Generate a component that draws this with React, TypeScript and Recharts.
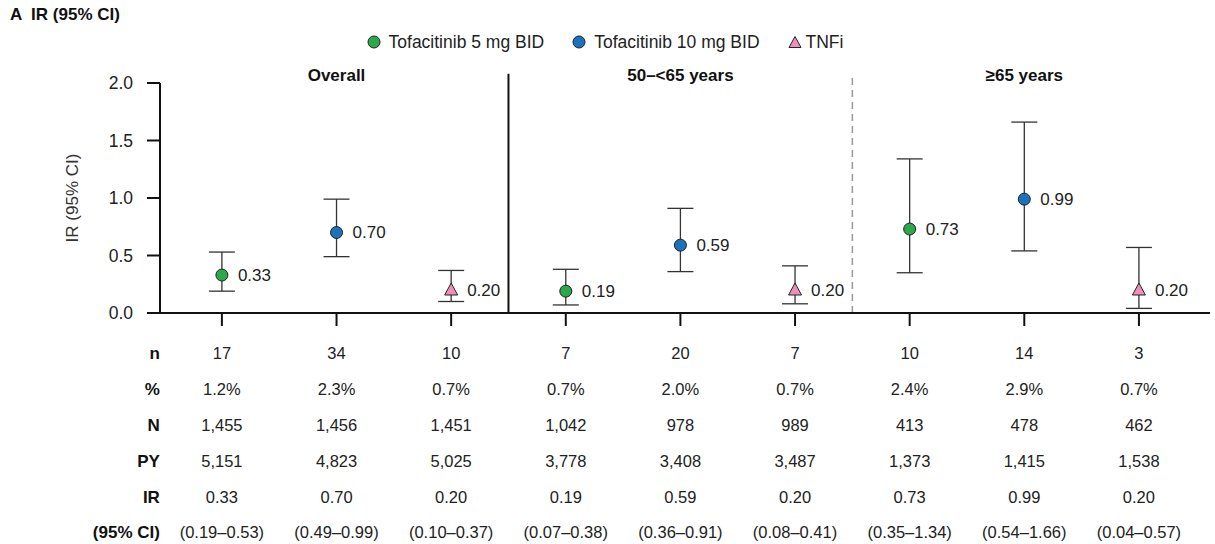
import { ScatterChart, Scatter, XAxis, YAxis, ErrorBar, ReferenceLine, ReferenceDot, Legend } from "recharts";

const FONT = '"Liberation Sans", Arial, Helvetica, sans-serif';

// columns: Overall (5, 10, TNFi), 50-<65 (5, 10, TNFi), >=65 (5, 10, TNFi)
const groups = ["Overall", "50–<65 years", "≥65 years"];
const seriesNames = ["Tofacitinib 5 mg BID", "Tofacitinib 10 mg BID", "TNFi"];
const seriesColors = ["#2ba84a", "#1a72bd", "#ec8fbb"];

const irValues = [0.33, 0.7, 0.2, 0.19, 0.59, 0.2, 0.73, 0.99, 0.2];
const ciLow = [0.19, 0.49, 0.1, 0.07, 0.36, 0.08, 0.35, 0.54, 0.04];
const ciHigh = [0.53, 0.99, 0.37, 0.38, 0.91, 0.41, 1.34, 1.66, 0.57];

const nValues = ["17", "34", "10", "7", "20", "7", "10", "14", "3"];
const pctValues = ["1.2%", "2.3%", "0.7%", "0.7%", "2.0%", "0.7%", "2.4%", "2.9%", "0.7%"];
const bigNValues = ["1,455", "1,456", "1,451", "1,042", "978", "989", "413", "478", "462"];
const pyValues = ["5,151", "4,823", "5,025", "3,778", "3,408", "3,487", "1,373", "1,415", "1,538"];

const rowLabels = ["n", "%", "N", "PY", "IR", "(95% CI)"];
const rowOffsets = [25, 61, 97, 133, 169, 204];
const columns = [0, 1, 2, 3, 4, 5, 6, 7, 8];
const yTicks = [0, 0.5, 1, 1.5, 2];

const seriesData = seriesNames.map((_, s) =>
  columns
    .filter((c) => c % 3 === s)
    .map((c) => ({
      x: c,
      y: irValues[c],
      err: [irValues[c] - ciLow[c], ciHigh[c] - irValues[c]],
    }))
);

const ciText = (i: number) => `(${ciLow[i].toFixed(2)}–${ciHigh[i].toFixed(2)})`;

const TableTick = (props: any) => {
  const { x, y, payload } = props;
  const i = payload.value as number;
  const cells = [nValues[i], pctValues[i], bigNValues[i], pyValues[i], irValues[i].toFixed(2), ciText(i)];
  return (
    <g fontFamily={FONT}>
      {cells.map((c, r) => (
        <text key={r} x={x} y={y + rowOffsets[r]} textAnchor="middle" dominantBaseline="central" fill="#222" fontSize={16.5}>
          {c}
        </text>
      ))}
      {i === 0 &&
        rowLabels.map((l, r) => (
          <text key={"l" + r} x={x - 62} y={y + rowOffsets[r]} textAnchor="end" dominantBaseline="central" fill="#111" fontWeight={700} fontSize={17}>
            {l}
          </text>
        ))}
    </g>
  );
};

const makeShape = (s: number) => (props: any) => {
  const { cx, cy, payload } = props;
  const color = seriesColors[s];
  return (
    <g>
      {s === 2 ? (
        <path d={`M${cx},${cy - 7} L${cx + 6.5},${cy + 5} L${cx - 6.5},${cy + 5} Z`} fill={color} stroke="#222" strokeWidth={1} />
      ) : (
        <circle cx={cx} cy={cy} r={6} fill={color} stroke="#222" strokeWidth={1} />
      )}
      <text x={cx + 16} y={cy} dominantBaseline="central" fontFamily={FONT} fontSize={17} fill="#222">
        {payload.y.toFixed(2)}
      </text>
    </g>
  );
};

const LegendIcon = ({ s }: { s: number }) => (
  <svg width={14} height={14} style={{ display: "block" }}>
    {s === 2 ? (
      <path d="M7,1.5 L13,12.5 L1,12.5 Z" fill={seriesColors[s]} stroke="#222" strokeWidth={1} />
    ) : (
      <circle cx={7} cy={7} r={6} fill={seriesColors[s]} stroke="#222" strokeWidth={1} />
    )}
  </svg>
);

const LegendContent = () => (
  <div style={{ display: "flex", justifyContent: "center", alignItems: "center", height: 24, fontFamily: FONT, fontSize: 17.5, color: "#222" }}>
    {seriesNames.map((name, s) => (
      <div key={name} style={{ display: "flex", alignItems: "center", marginRight: s === 2 ? 0 : 28 }}>
        <LegendIcon s={s} />
        <span style={{ marginLeft: s === 2 ? 4 : 8 }}>{name}</span>
      </div>
    ))}
  </div>
);

export default function App() {
  return (
    <div style={{ position: "absolute", left: 0, top: 0, width: 1215, height: 544, background: "#fff" }}>
      <div style={{ position: "absolute", left: 10, top: 5, fontFamily: FONT, fontSize: 17, fontWeight: 700, color: "#111", whiteSpace: "pre" }}>
        {"A  IR (95% CI)"}
      </div>
      <ScatterChart width={1215} height={544} margin={{ top: 30, right: 5, bottom: 0, left: 0 }}>
        <Legend verticalAlign="top" height={53} content={<LegendContent />} />
        <XAxis
          type="number"
          dataKey="x"
          domain={[-0.54, 8.62]}
          ticks={columns}
          interval={0}
          height={231}
          tickSize={13}
          axisLine={{ stroke: "#111", strokeWidth: 2 }}
          tickLine={{ stroke: "#111", strokeWidth: 2 }}
          tick={<TableTick />}
        />
        <YAxis
          type="number"
          dataKey="y"
          domain={[0, 2]}
          ticks={yTicks}
          width={160}
          tickSize={13}
          tickMargin={14}
          tickFormatter={(v: number) => v.toFixed(1)}
          axisLine={{ stroke: "#111", strokeWidth: 2 }}
          tickLine={{ stroke: "#111", strokeWidth: 2 }}
          tick={{ fill: "#222", fontSize: 17.5, fontFamily: FONT }}
          label={{
            content: (p: any) => (
              <text
                x={72}
                y={p.viewBox.y + p.viewBox.height / 2}
                transform={`rotate(-90 72 ${p.viewBox.y + p.viewBox.height / 2})`}
                textAnchor="middle"
                dominantBaseline="central"
                fontFamily={FONT}
                fontSize={17}
                fill="#333"
              >
                IR (95% CI)
              </text>
            ),
          }}
        />
        <ReferenceLine
          segment={[{ x: 2.5, y: 0 }, { x: 2.5, y: 2.08 }]}
          stroke="#111"
          strokeWidth={2}
          ifOverflow="visible"
        />
        <ReferenceLine
          segment={[{ x: 5.5, y: 0 }, { x: 5.5, y: 2.08 }]}
          stroke="#9a9a9a"
          strokeWidth={1.5}
          strokeDasharray="7 5"
          ifOverflow="visible"
        />
        {groups.map((g, k) => (
          <ReferenceDot
            key={g}
            x={k * 3 + 1}
            y={2.07}
            r={0}
            ifOverflow="visible"
            label={{ value: g, position: "center", fill: "#111", fontSize: 17, fontWeight: 700, fontFamily: FONT }}
          />
        ))}
        {seriesNames.map((name, s) => (
          <Scatter key={name} name={name} data={seriesData[s]} shape={makeShape(s)} isAnimationActive={false}>
            <ErrorBar dataKey="err" direction="y" width={13} stroke="#333" strokeWidth={1.3} />
          </Scatter>
        ))}
      </ScatterChart>
    </div>
  );
}
